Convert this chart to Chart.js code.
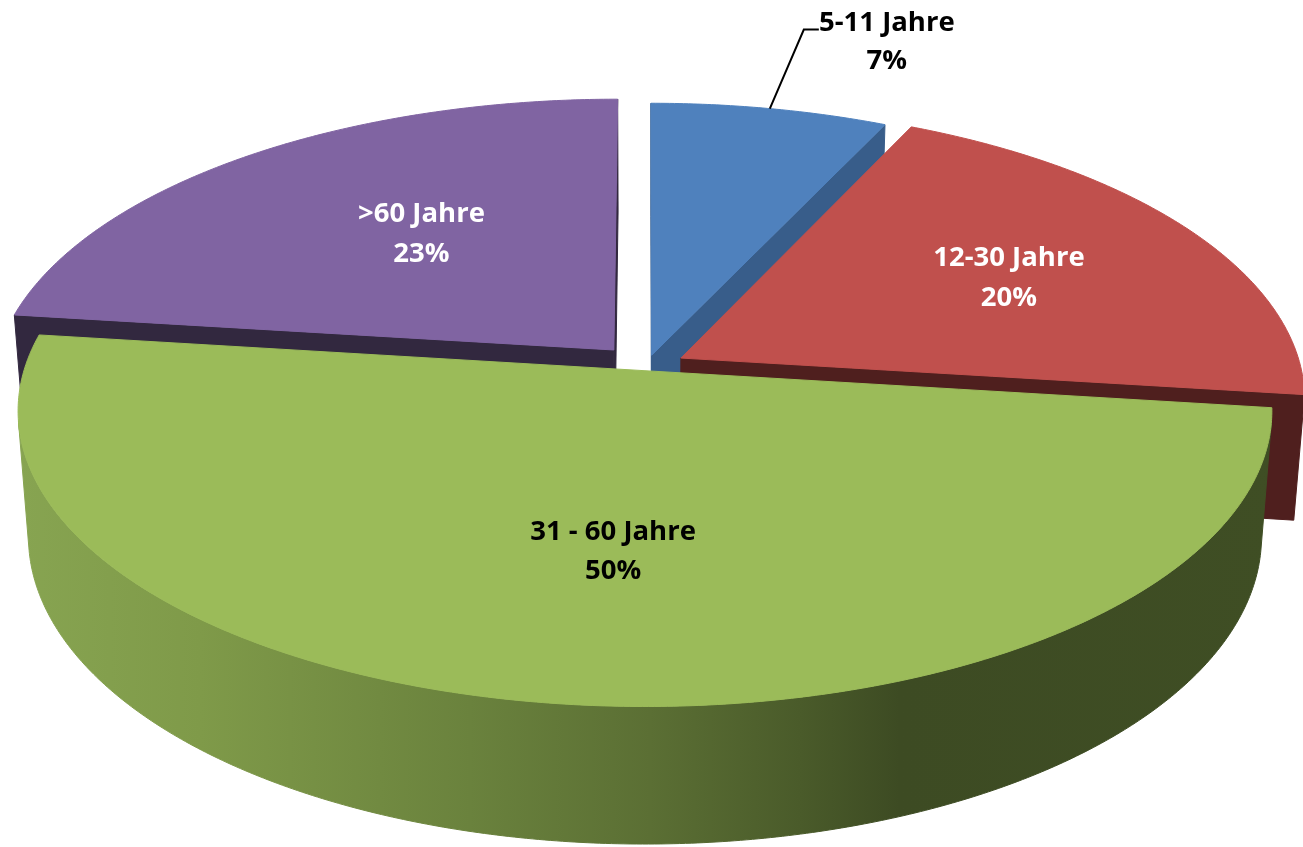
<!DOCTYPE html>
<html>
<head>
<meta charset="utf-8">
<script src="https://cdn.jsdelivr.net/npm/chart.js@4.4.1/dist/chart.umd.min.js"></script>
<style>
  html, body { margin: 0; padding: 0; background: #fff; }
  canvas { display: block; }
</style>
</head>
<body>
<canvas id="myChart" width="1303" height="847"></canvas>
<script>
var categories = ["5-11 Jahre", "12-30 Jahre", "31 - 60 Jahre", ">60 Jahre"];
var shares = [7, 20, 50, 23];

var topColors = ["#4F81BD", "#C0504D", "#9BBB59", "#8064A2"];
var sideColors = ["#385D8A", "#4F1F1E", "gradient", "#32283F"];
var labelColors = ["#000000", "#ffffff", "#000000", "#ffffff"];
// [fraction of the slice angle, fraction of the radius]
var labelAt = [[0.5, 1], [0.55, 0.61], [0.485, 0.60], [0.52, 0.52]];
var explode = [26, 40, 8, 49];

var tilt = 27.8 * Math.PI / 180;
var depth = 143;
var eye = 4042;
var labelFont = "bold 27.5px 'Open Sans'";

function geom(arc) {
  var g = arc.getProps(["x", "y", "startAngle", "endAngle", "outerRadius"], true);
  var m = (g.startAngle + g.endAngle) / 2;
  var off = arc.options.offset || 0;
  g.mid = m;
  g.ox = Math.cos(m) * off;
  g.oy = Math.sin(m) * off;
  return g;
}

// pie plane -> screen, simple perspective with the eye in front and above
function pt(g, a, r, w) {
  var u = g.ox + r * Math.cos(a);
  var v = g.oy + r * Math.sin(a);
  var d = eye - v * Math.cos(tilt) - w * Math.sin(tilt);
  var s = eye / d;
  return [g.x + u * s, g.y + (v * Math.sin(tilt) - w * Math.cos(tilt)) * s];
}

function area(p) {
  var s = 0;
  for (var i = 0; i < p.length; i++) {
    var a = p[i], b = p[(i + 1) % p.length];
    s += a[0] * b[1] - b[0] * a[1];
  }
  return s;
}

function fillPoly(ctx, p, style) {
  ctx.beginPath();
  ctx.moveTo(p[0][0], p[0][1]);
  for (var i = 1; i < p.length; i++) ctx.lineTo(p[i][0], p[i][1]);
  ctx.closePath();
  ctx.fillStyle = style;
  ctx.strokeStyle = style;
  ctx.lineWidth = 1;
  ctx.lineJoin = "round";
  ctx.fill();
  ctx.stroke();
}

function sideFill(ctx, i) {
  if (sideColors[i] !== "gradient") return sideColors[i];
  var gr = ctx.createLinearGradient(20, 0, 1280, 0);
  gr.addColorStop(0, "#87A451");
  gr.addColorStop(0.143, "#7F9A49");
  gr.addColorStop(0.357, "#6A823D");
  gr.addColorStop(0.5, "#5B6F34");
  gr.addColorStop(0.619, "#4A5B2A");
  gr.addColorStop(0.698, "#3D4B23");
  gr.addColorStop(1, "#3F4E24");
  return gr;
}

function drawSlice(ctx, arc, i) {
  var g = geom(arc);
  var R = g.outerRadius;
  var n = Math.max(2, Math.ceil((g.endAngle - g.startAngle) / (Math.PI / 360)));
  var top = [], bot = [];
  for (var k = 0; k <= n; k++) {
    var a = g.startAngle + (g.endAngle - g.startAngle) * k / n;
    top.push(pt(g, a, R, 0));
    bot.push(pt(g, a, R, -depth));
  }
  var c0 = pt(g, 0, 0, 0), c1 = pt(g, 0, 0, -depth);
  var side = sideFill(ctx, i);

  var faces = [[top[0], c0, c1, bot[0]], [c0, top[n], bot[n], c1]];
  faces.forEach(function (f) {
    if (area(f) > 0) fillPoly(ctx, f, side);
  });

  var run = null;
  function flush() {
    var p = top.slice(run[0], run[1] + 1).concat(bot.slice(run[0], run[1] + 1).reverse());
    fillPoly(ctx, p, side);
    run = null;
  }
  for (k = 0; k < n; k++) {
    var q = [top[k + 1], top[k], bot[k], bot[k + 1]];
    if (area(q) > 0) {
      if (!run) run = [k, k + 1]; else run[1] = k + 1;
    } else if (run) flush();
  }
  if (run) flush();

  fillPoly(ctx, [c0].concat(top), arc.options.backgroundColor);
}

var pie3d = {
  id: "pie3d",
  beforeDatasetsDraw: function (chart) {
    var ctx = chart.ctx;
    var arcs = chart.getDatasetMeta(0).data;
    var order = arcs.map(function (a, i) { return i; });
    order.sort(function (a, b) {
      return Math.sin(geom(arcs[a]).mid) - Math.sin(geom(arcs[b]).mid);
    });
    ctx.save();
    order.forEach(function (i) { drawSlice(ctx, arcs[i], i); });
    ctx.restore();
    return false;
  },
  afterDraw: function (chart) {
    var ctx = chart.ctx;
    var arcs = chart.getDatasetMeta(0).data;
    var total = shares.reduce(function (s, v) { return s + v; }, 0);
    ctx.save();
    ctx.font = labelFont;
    ctx.textAlign = "center";
    ctx.textBaseline = "alphabetic";
    arcs.forEach(function (arc, i) {
      var g = geom(arc);
      var a = g.startAngle + (g.endAngle - g.startAngle) * labelAt[i][0];
      var p = pt(g, a, g.outerRadius * labelAt[i][1], 0);
      var pct = Math.round(shares[i] / total * 100) + "%";
      ctx.fillStyle = labelColors[i];
      if (labelAt[i][1] >= 1) {
        // outside label with leader line
        ctx.beginPath();
        ctx.moveTo(p[0], p[1]);
        ctx.lineTo(p[0] + 34, p[1] - 79);
        ctx.lineTo(p[0] + 49, p[1] - 79);
        ctx.strokeStyle = "#000000";
        ctx.lineWidth = 2;
        ctx.stroke();
        ctx.fillText(categories[i], p[0] + 117, p[1] - 78);
        ctx.fillText(pct, p[0] + 117, p[1] - 40);
      } else {
        ctx.fillText(categories[i], p[0], p[1] - 20);
        ctx.fillText(pct, p[0], p[1] + 19.5);
      }
    });
    ctx.restore();
  }
};

new Chart("myChart", {
  type: "pie",
  data: {
    labels: categories,
    datasets: [{
      data: shares,
      backgroundColor: topColors,
      borderWidth: 0,
      offset: explode
    }]
  },
  options: {
    responsive: false,
    animation: false,
    radius: 620,
    layout: {
      padding: { top: 0, left: 0, right: 11, bottom: 113 }
    },
    plugins: {
      legend: { display: false },
      tooltip: { enabled: false }
    }
  },
  plugins: [pie3d]
});
</script>
</body>
</html>
